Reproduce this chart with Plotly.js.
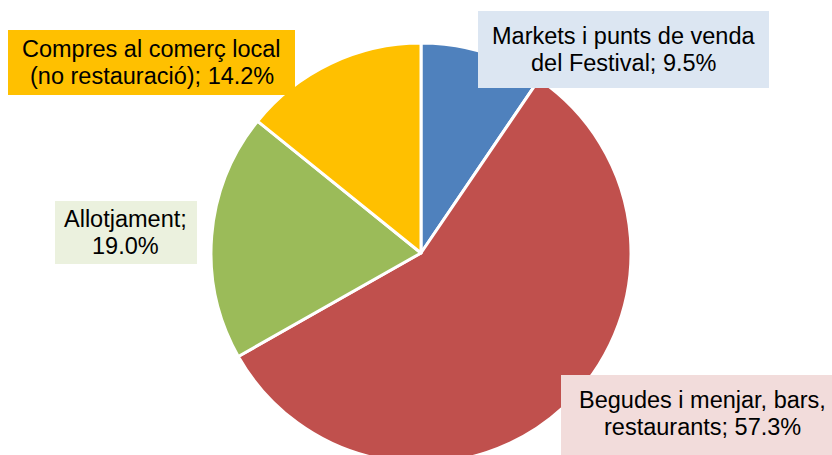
<!DOCTYPE html>
<html>
<head>
<meta charset="utf-8">
<script src="https://cdn.plot.ly/plotly-3.0.1.min.js"></script>
<style>
html,body{margin:0;padding:0;width:832px;height:455px;overflow:hidden;background:#fff;}
#chart{width:832px;height:470px;}
</style>
</head>
<body>
<div id="chart"></div>
<script>
const categories = ["Markets i punts de venda del Festival", "Begudes i menjar, bars, restaurants", "Allotjament", "Compres al comerç local (no restauració)"];
const values = [9.5, 57.3, 19.0, 14.2];
const labelLines = [
  ["Markets i punts de venda", "del Festival; 9.5%"],
  ["Begudes i menjar, bars,", "restaurants; 57.3%"],
  ["Allotjament;", "19.0%"],
  ["Compres al comerç local", "(no restauració); 14.2%"]
];
const sliceColors = ["#4F81BD", "#C0504D", "#9BBB59", "#FFC000"];
const boxColors = ["#DCE6F2", "#F2DCDB", "#EBF1DE", "#FFC000"];

const W = 832, H = 470;
// label boxes in pixels: left, top, width, height
const boxes = [
  [478, 11, 291, 77],
  [561, 375, 282, 90],
  [55, 201, 142, 63],
  [8, 30, 287, 65]
];
const lineGap = 27;
const font = {family: 'Liberation Sans, Arial, sans-serif', size: 23.5, color: '#000'};

const annotations = [];
boxes.forEach((b, i) => {
  annotations.push({
    xref: 'paper', yref: 'paper',
    x: b[0] / W, y: (H - b[1]) / H,
    xanchor: 'left', yanchor: 'top',
    width: b[2], height: b[3],
    borderpad: 0, borderwidth: 0,
    showarrow: false, text: ' ',
    bgcolor: boxColors[i], font: font
  });
  const cx = b[0] + b[2] / 2;
  const cy = (i === 1) ? 375 + 38.5 : b[1] + b[3] / 2;
  labelLines[i].forEach((t, k) => {
    const py = cy + (k - 0.5) * lineGap;
    annotations.push({
      xref: 'paper', yref: 'paper',
      x: cx / W, y: (H - py) / H,
      xanchor: 'center', yanchor: 'middle',
      showarrow: false, text: t, font: font
    });
  });
});

Plotly.newPlot('chart', [{
  type: 'pie',
  labels: categories,
  values: values,
  sort: false,
  direction: 'clockwise',
  rotation: 0,
  textinfo: 'none',
  hoverinfo: 'label+percent',
  marker: {colors: sliceColors, line: {color: '#FFFFFF', width: 3}},
  domain: {x: [211 / W, 631 / W], y: [(H - 463) / H, (H - 43) / H]}
}], {
  width: W, height: H,
  margin: {l: 0, r: 0, t: 0, b: 0},
  showlegend: false,
  paper_bgcolor: '#FFFFFF',
  annotations: annotations
}, {staticPlot: true, displayModeBar: false});
</script>
</body>
</html>
